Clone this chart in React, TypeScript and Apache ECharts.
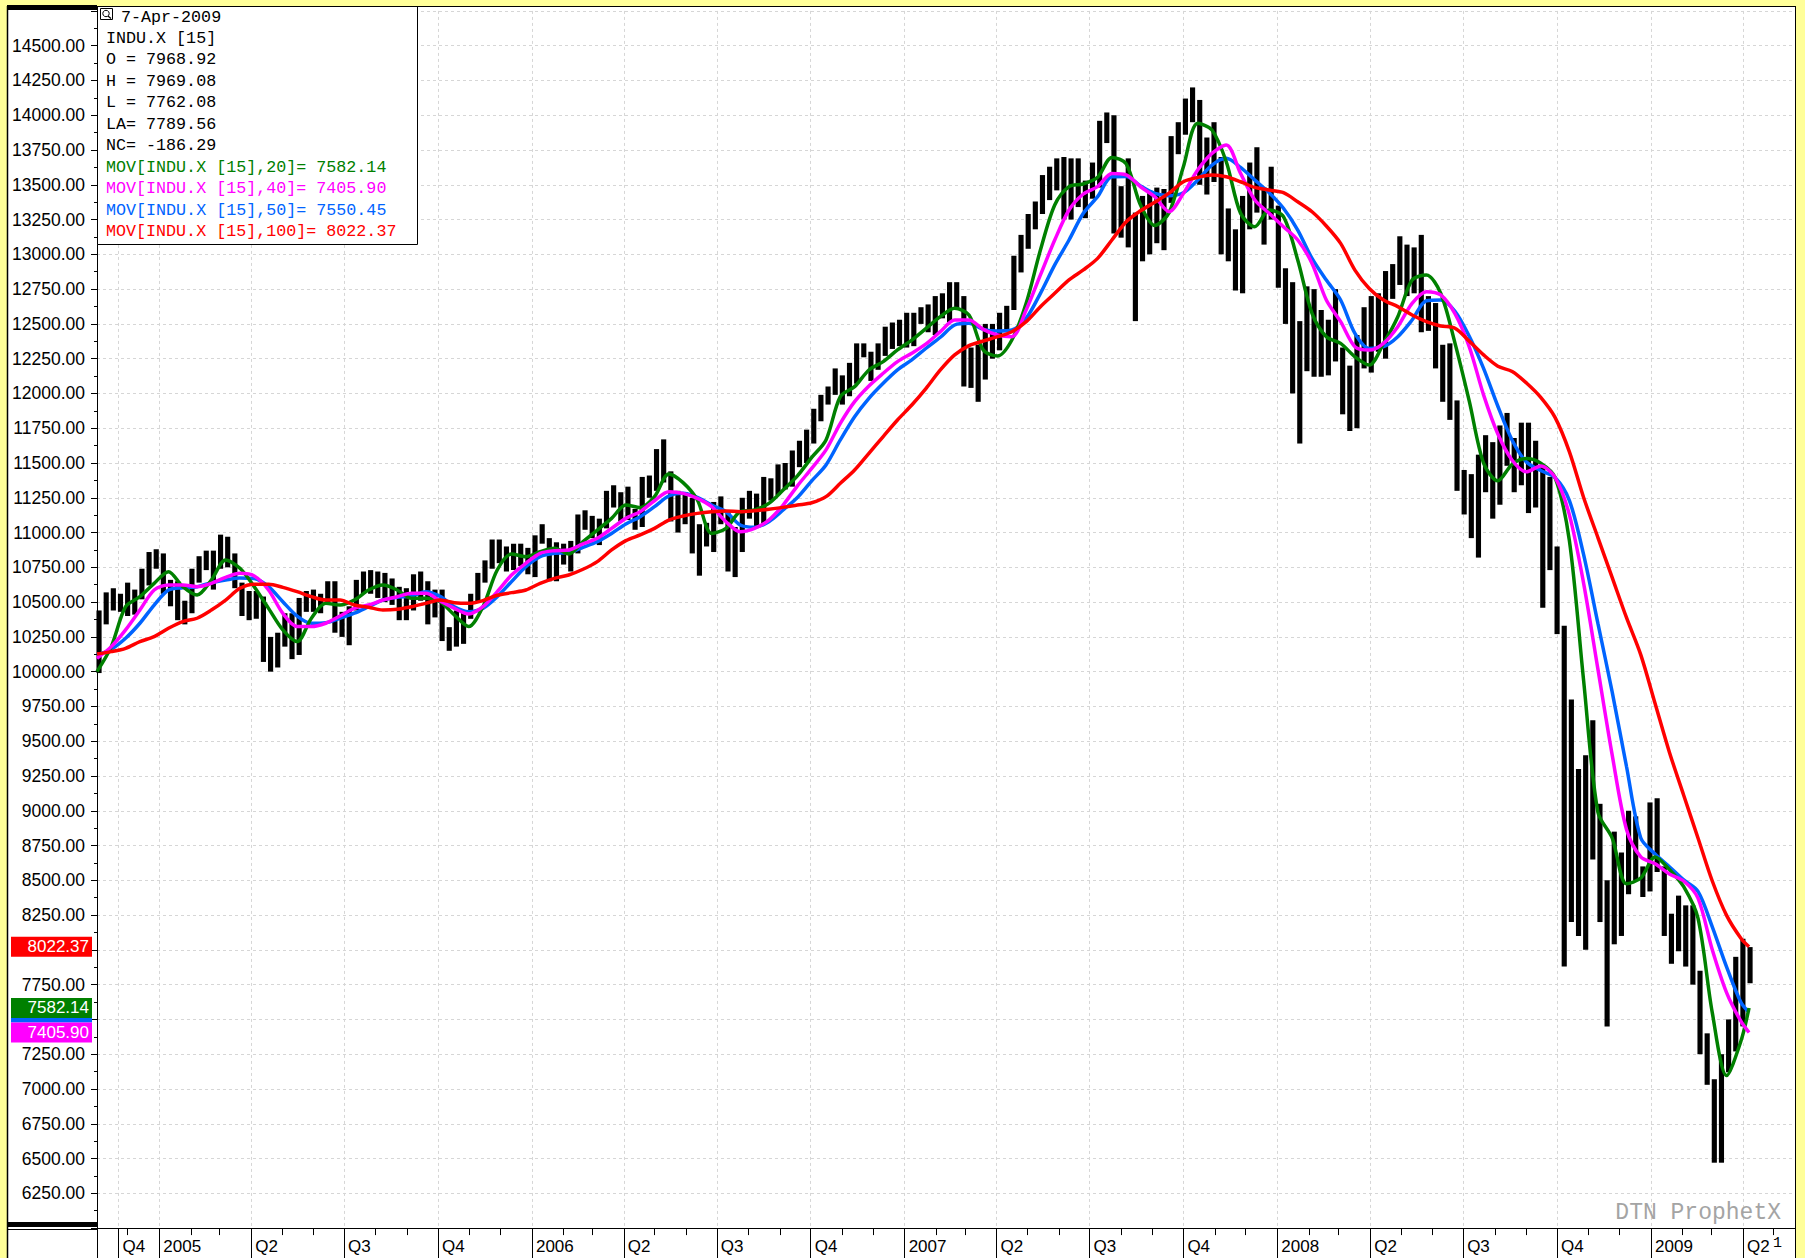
import React, { useEffect, useRef } from 'react';
import * as echarts from 'echarts';

// ---------- axis range / labels ----------
const AXIS_START = '2004-11-01';
const AXIS_END = '2009-05-23';
const QUARTER_DATES = ['2004-11-22', '2005-01-01', '2005-04-01', '2005-07-01', '2005-10-01', '2006-01-01', '2006-04-01', '2006-07-01', '2006-10-01', '2007-01-01', '2007-04-01', '2007-07-01', '2007-10-01', '2008-01-01', '2008-04-01', '2008-07-01', '2008-10-01', '2009-01-01', '2009-04-01'];
const QUARTER_LABELS = ['Q4', '2005', 'Q2', 'Q3', 'Q4', '2006', 'Q2', 'Q3', 'Q4', '2007', 'Q2', 'Q3', 'Q4', '2008', 'Q2', 'Q3', 'Q4', '2009', 'Q2'];
const Y_MIN = 6000;
const Y_MAX = 14750;
const Y_STEP = 250;
// y labels that sit under the last-value badges in the reference
const Y_LABELS_COVERED = [8000, 7500];

// ---------- INDU.X weekly ranges (week k centred on Wednesday PRICE_WEEK0 + 7k) ----------
const PRICE_WEEK0 = '2004-11-03';
const WEEK_LOW = [
  9990, 10340, 10440, 10430, 10400, 10410, 10520, 10620, 10740, 10560,
  10470, 10370, 10340, 10420, 10640, 10730, 10590, 10740, 10750, 10600,
  10400, 10370, 10380, 10070, 10000, 10030, 10180, 10090, 10120, 10430,
  10430, 10420, 10480, 10280, 10250, 10190, 10440, 10560, 10560, 10530,
  10500, 10480, 10370, 10370, 10440, 10510, 10340, 10390, 10220, 10150,
  10180, 10200, 10380, 10500, 10640, 10740, 10780, 10720, 10730, 10760,
  10700, 10680, 10920, 10650, 10650, 10770, 10720, 10850, 11020, 10960,
  10910, 11030, 11180, 11080, 11090, 11020, 11040, 11250, 11300, 11360,
  11080, 11000, 11060, 10850, 10690, 10900, 10860, 11060, 10720, 10680,
  10860, 11100, 11040, 11060, 11230, 11270, 11310, 11330, 11470, 11500,
  11640, 11800, 11920, 11990, 11920, 11980, 12070, 12260, 12090, 12170,
  12270, 12320, 12340, 12330, 12340, 12500, 12440, 12420, 12540, 12510,
  12610, 12050, 12040, 11940, 12100, 12250, 12310, 12450, 12600, 12870,
  13040, 13180, 13290, 13390, 13460, 13250, 13250, 13340, 13260, 13400,
  13480, 13800, 13150, 13120, 13050, 12520, 12950, 13000, 13080, 13030,
  13370, 13720, 13860, 13950, 13500, 13430, 13520, 13000, 12950, 12740,
  12720, 13180, 13300, 13070, 13250, 12760, 12500, 12000, 11640, 12160,
  12120, 12120, 12130, 12230, 11850, 11730, 11750, 12180, 12150, 12300,
  12250, 12680, 12780, 12700, 12720, 12440, 12450, 12180, 11940, 11810,
  11300, 11130, 10960, 10820, 11290, 11100, 11200, 11480, 11290, 11340,
  11140, 11180, 10460, 10730, 10270, 7880, 8200, 8100, 8000, 8650,
  8200, 7450, 8040, 8100, 8400, 8500, 8380, 8420, 8560, 8100,
  7900, 7990, 7880, 7750, 7250, 7030, 6470, 6470, 7120, 7270,
  7450, 7760,
];
const WEEK_HIGH = [
  10440, 10570, 10600, 10560, 10640, 10590, 10740, 10860, 10880, 10850,
  10660, 10650, 10510, 10740, 10830, 10870, 10870, 10985, 10970, 10850,
  10640, 10580, 10580, 10540, 10250, 10280, 10420, 10420, 10530, 10580,
  10590, 10560, 10650, 10650, 10430, 10470, 10660, 10720, 10730, 10720,
  10710, 10670, 10610, 10600, 10700, 10720, 10650, 10590, 10590, 10320,
  10440, 10430, 10560, 10710, 10800, 10950, 10950, 10900, 10920, 10920,
  10890, 10980, 11060, 10960, 10930, 10920, 10940, 11130, 11160, 11120,
  11100, 11300, 11340, 11290, 11330, 11170, 11400, 11410, 11600, 11670,
  11440, 11300, 11290, 11250, 11060, 11070, 11220, 11260, 11160, 11040,
  11250, 11300, 11280, 11400, 11390, 11490, 11500, 11590, 11660, 11740,
  11890, 11990, 12050, 12180, 12130, 12220, 12360, 12360, 12300, 12360,
  12480, 12510, 12530, 12580, 12580, 12620, 12640, 12700, 12720, 12800,
  12800, 12700, 12330, 12350, 12500, 12500, 12580, 12630, 12990, 13140,
  13290, 13380, 13570, 13630, 13690, 13700, 13690, 13690, 13530, 13660,
  13960, 14020, 14000, 13490, 13690, 13300, 13420, 13460, 13480, 13470,
  13850, 13950, 14120, 14200, 14110, 13840, 13950, 13700, 13330, 13180,
  13420, 13660, 13770, 13480, 13630, 13350, 12900, 12800, 12520, 12770,
  12750, 12600, 12530, 12750, 12330, 12200, 12420, 12620, 12700, 12720,
  12880, 12930, 13130, 13070, 13050, 13140, 12700, 12650, 12350, 12360,
  11950, 11450, 11420, 11560, 11700, 11650, 11770, 11860, 11680, 11790,
  11790, 11660, 11480, 11400, 10900, 10330, 9800, 9300, 9400, 9650,
  9050, 8500, 8850, 8700, 9000, 8960, 8600, 9060, 9090, 8600,
  8260, 8390, 8320, 8320, 7850, 7400, 7070, 7250, 7500, 7950,
  8080, 8020,
];

// ---------- moving averages, sampled every 14 days from MA_DATE0 ----------
const MA_DATE0 = '2004-11-01';
const MA_STEP_DAYS = 14;
const MA_LAST_DATE = '2009-04-07';
const MA20 = [
  10000, 10180, 10467, 10539, 10635, 10719, 10611, 10551, 10659, 10803,
  10743, 10611, 10455, 10300, 10216, 10384, 10491, 10479, 10515, 10587,
  10623, 10587, 10527, 10527, 10503, 10407, 10324, 10467, 10731, 10846,
  10827, 10863, 10887, 10846, 10935, 11018, 11102, 11198, 11179, 11258,
  11421, 11359, 11234, 10994, 11030, 11150, 11162, 11210, 11306, 11408,
  11540, 11666, 11977, 12049, 12169, 12229, 12313, 12384, 12468, 12552,
  12612, 12564, 12313, 12269, 12384, 12648, 13031, 13355, 13487, 13506,
  13554, 13697, 13650, 13355, 13208, 13300, 13630, 13942, 13894, 13666,
  13295, 13199, 13319, 13271, 12959, 12576, 12408, 12360, 12264, 12204,
  12360, 12552, 12815, 12851, 12720, 12362, 11945, 11499, 11372, 11491,
  11532, 11499, 11396, 10944, 9936, 8989, 8804, 8475, 8516, 8668,
  8578, 8454, 8228, 7549, 7096, 7343,
];
const MA40 = [
  10096, 10180, 10300, 10443, 10587, 10623, 10623, 10611, 10635, 10678,
  10707, 10688, 10587, 10419, 10324, 10324, 10348, 10400, 10455, 10479,
  10515, 10539, 10563, 10563, 10509, 10455, 10415, 10467, 10575, 10695,
  10779, 10851, 10870, 10875, 10918, 10959, 11030, 11102, 11150, 11229,
  11294, 11282, 11246, 11186, 11078, 11006, 11030, 11090, 11198, 11336,
  11462, 11594, 11785, 11941, 12054, 12145, 12229, 12289, 12356, 12444,
  12528, 12528, 12461, 12420, 12408, 12600, 12852, 13103, 13319, 13434,
  13487, 13582, 13572, 13486, 13414, 13307, 13438, 13606, 13726, 13786,
  13582, 13390, 13295, 13199, 13103, 12935, 12672, 12516, 12336, 12312,
  12360, 12480, 12648, 12732, 12708, 12573, 12335, 11990, 11708, 11520,
  11437, 11479, 11396, 11129, 10635, 10018, 9400, 8866, 8668, 8619,
  8545, 8495, 8372, 8001, 7693, 7487,
];
const MA50 = [
  10120, 10161, 10240, 10348, 10479, 10587, 10604, 10611, 10640, 10659,
  10673, 10669, 10611, 10503, 10400, 10348, 10352, 10384, 10420, 10467,
  10515, 10534, 10544, 10575, 10541, 10467, 10431, 10455, 10539, 10647,
  10755, 10827, 10851, 10856, 10894, 10935, 10994, 11062, 11114, 11186,
  11263, 11282, 11253, 11198, 11150, 11054, 11038, 11078, 11162, 11252,
  11372, 11486, 11666, 11833, 11965, 12073, 12169, 12241, 12325, 12404,
  12492, 12504, 12461, 12449, 12456, 12540, 12720, 12924, 13103, 13295,
  13415, 13558, 13560, 13492, 13438, 13422, 13443, 13534, 13642, 13690,
  13625, 13534, 13443, 13331, 13175, 12971, 12815, 12672, 12432, 12324,
  12336, 12408, 12528, 12667, 12672, 12591, 12411, 12180, 11908, 11664,
  11507, 11446, 11396, 11232, 10841, 10347, 9853, 9318, 8804, 8689,
  8598, 8503, 8421, 8166, 7878, 7623,
];
const MA100 = [
  10127, 10144, 10168, 10216, 10252, 10312, 10360, 10384, 10443, 10515,
  10599, 10628, 10628, 10606, 10575, 10539, 10515, 10515, 10479, 10463,
  10443, 10448, 10467, 10491, 10516, 10496, 10491, 10511, 10549, 10568,
  10587, 10635, 10671, 10695, 10736, 10791, 10875, 10942, 10983, 11030,
  11090, 11119, 11138, 11150, 11155, 11150, 11157, 11167, 11181, 11198,
  11214, 11258, 11354, 11450, 11570, 11690, 11809, 11917, 12037, 12169,
  12277, 12344, 12377, 12408, 12444, 12516, 12624, 12720, 12816, 12888,
  12971, 13103, 13235, 13313, 13375, 13440, 13522, 13553, 13570, 13558,
  13522, 13481, 13462, 13443, 13378, 13306, 13204, 13079, 12887, 12755,
  12672, 12624, 12564, 12516, 12485, 12469, 12376, 12277, 12196, 12158,
  12075, 11972, 11828, 11582, 11252, 10964, 10676, 10388, 10121, 9771,
  9421, 9112, 8804, 8495, 8248, 8084,
];

// ---------- last values shown in the info box / axis badges ----------
const INFO_DATE = '7-Apr-2009';
const INFO_SYMBOL = 'INDU.X [15]';
const INFO_OPEN = 7968.92;
const INFO_HIGH = 7969.08;
const INFO_LOW = 7762.08;
const INFO_LAST = 7789.56;
const INFO_NET = -186.29;
const LAST_MA20 = 7582.14;
const LAST_MA40 = 7405.90;
const LAST_MA50 = 7550.45;
const LAST_MA100 = 8022.37;

const C_GREEN = '#008000';
const C_MAGENTA = '#ff00ff';
const C_BLUE = '#0064ff';
const C_RED = '#ff0000';
const C_YELLOW = '#ffff99';

const DAY = 86400000;
const toTime = (s: string) => Date.UTC(+s.slice(0, 4), +s.slice(5, 7) - 1, +s.slice(8, 10));
const dayIndex = (s: string) => Math.round((toTime(s) - toTime(AXIS_START)) / DAY);

export default function App() {
  const ref = useRef<HTMLDivElement>(null);

  useEffect(() => {
    if (!ref.current) return;
    const chart = echarts.init(ref.current, undefined, { renderer: 'svg' });

    const nDays = dayIndex(AXIS_END);
    const categories: string[] = [];
    for (let i = 0; i <= nDays; i++) categories.push(new Date(toTime(AXIS_START) + i * DAY).toISOString().slice(0, 10));
    const labelByDate = new Map<string, string>();
    QUARTER_DATES.forEach((d, j) => labelByDate.set(d, QUARTER_LABELS[j]));
    const isQuarter = (i: number) => labelByDate.has(categories[i]);
    const isMonth = (i: number) => i > 0 && categories[i].endsWith('-01') && !isQuarter(i);

    const priceData = WEEK_LOW.map((lo, k) => [dayIndex(PRICE_WEEK0) + 7 * k, lo, WEEK_HIGH[k]]);
    const maData = (arr: number[], last: number) => [
      ...arr.map((v, j) => [dayIndex(MA_DATE0) + MA_STEP_DAYS * j, v]),
      [dayIndex(MA_LAST_DATE), last],
    ];

    const badge = (value: number, color: string, showText: boolean) => ({
      type: 'line',
      data: [],
      silent: true,
      z: 10,
      markLine: {
        silent: true,
        symbol: 'none',
        lineStyle: { color: 'rgba(0,0,0,0)', width: 0.01, type: 'solid' },
        data: [{ yAxis: value }],
        label: {
          show: true,
          position: 'start',
          distance: 5,
          formatter: showText ? value.toFixed(2) : ' ',
          color: '#ffffff',
          backgroundColor: color,
          fontFamily: 'Liberation Sans, Arial, sans-serif',
          fontSize: 17,
          lineHeight: 17,
          width: 62,
          height: 17,
          align: 'right',
          padding: [2, 3, 1, 16],
        },
      },
    });

    const maLine = (name: string, arr: number[], last: number, color: string) => ({
      name,
      type: 'line',
      data: maData(arr, last),
      showSymbol: false,
      smooth: 0.3,
      silent: true,
      lineStyle: { color, width: 3.5 },
      itemStyle: { color },
      z: 3,
    });

    const mono = '"Liberation Mono", "Courier New", monospace';
    const infoLines: [string, string][] = [
      [INFO_SYMBOL, '#000'],
      [`O = ${INFO_OPEN.toFixed(2)}`, '#000'],
      [`H = ${INFO_HIGH.toFixed(2)}`, '#000'],
      [`L = ${INFO_LOW.toFixed(2)}`, '#000'],
      [`LA= ${INFO_LAST.toFixed(2)}`, '#000'],
      [`NC= ${INFO_NET.toFixed(2)}`, '#000'],
      [`MOV[INDU.X [15],20]= ${LAST_MA20.toFixed(2)}`, C_GREEN],
      [`MOV[INDU.X [15],40]= ${LAST_MA40.toFixed(2)}`, C_MAGENTA],
      [`MOV[INDU.X [15],50]= ${LAST_MA50.toFixed(2)}`, C_BLUE],
      [`MOV[INDU.X [15],100]= ${LAST_MA100.toFixed(2)}`, C_RED],
    ];

    const graphic: any[] = [
      // yellow frame
      { type: 'rect', shape: { x: 0, y: 0, width: 1805, height: 6 }, style: { fill: C_YELLOW }, z: 200, silent: true },
      { type: 'rect', shape: { x: 0, y: 0, width: 7, height: 1258 }, style: { fill: C_YELLOW }, z: 200, silent: true },
      { type: 'rect', shape: { x: 1796, y: 0, width: 9, height: 1258 }, style: { fill: C_YELLOW }, z: 200, silent: true },
      // borders
      { type: 'line', shape: { x1: 7.5, y1: 6, x2: 7.5, y2: 1258 }, style: { stroke: '#000', lineWidth: 1.5 }, z: 201, silent: true },
      { type: 'line', shape: { x1: 7, y1: 6.5, x2: 1796, y2: 6.5 }, style: { stroke: '#000', lineWidth: 1 }, z: 201, silent: true },
      { type: 'line', shape: { x1: 1795.5, y1: 6, x2: 1795.5, y2: 1258 }, style: { stroke: '#000', lineWidth: 1 }, z: 201, silent: true },
      { type: 'rect', shape: { x: 7, y: 5, width: 90, height: 5 }, style: { fill: '#000' }, z: 201, silent: true },
      { type: 'line', shape: { x1: 97.5, y1: 6, x2: 97.5, y2: 12 }, style: { stroke: '#000', lineWidth: 1 }, z: 201, silent: true },
      { type: 'rect', shape: { x: 7, y: 1222, width: 90, height: 5 }, style: { fill: '#000' }, z: 201, silent: true },
      { type: 'line', shape: { x1: 7, y1: 1229.5, x2: 97, y2: 1229.5 }, style: { stroke: '#000', lineWidth: 1 }, z: 201, silent: true },
      { type: 'line', shape: { x1: 97.5, y1: 1228, x2: 97.5, y2: 1258 }, style: { stroke: '#000', lineWidth: 1 }, z: 201, silent: true },
      // truncated label at the right end of the time axis
      { type: 'text', x: 1773, y: 1243, style: { text: '1', font: '15px "Liberation Mono", monospace', fill: '#000', textVerticalAlign: 'middle' }, z: 5, silent: true },
      // info box
      { type: 'rect', shape: { x: 97.5, y: 6.5, width: 320, height: 238 }, style: { fill: '#fff', stroke: '#000', lineWidth: 1 }, z: 150, silent: true },
      { type: 'rect', shape: { x: 100.5, y: 8.5, width: 12, height: 11 }, style: { fill: '#fff', stroke: '#000', lineWidth: 1 }, z: 151, silent: true },
      { type: 'circle', shape: { cx: 106, cy: 13.5, r: 3.2 }, style: { fill: 'none', stroke: '#000', lineWidth: 1 }, z: 152, silent: true },
      { type: 'line', shape: { x1: 108, x2: 111, y1: 16, y2: 18.5 }, style: { stroke: '#000', lineWidth: 1.2 }, z: 152, silent: true },
      { type: 'text', x: 121, y: 17, style: { text: INFO_DATE, font: `16.7px ${mono}`, fill: '#000', textVerticalAlign: 'middle' }, z: 152, silent: true },
      ...infoLines.map(([t, c], i) => ({
        type: 'text', x: 106, y: 38.5 + i * 21.45,
        style: { text: t, font: `16.7px ${mono}`, fill: c, textVerticalAlign: 'middle' }, z: 152, silent: true,
      })),
      // watermark
      { type: 'text', x: 1781, y: 1213, style: { text: 'DTN ProphetX', font: `23px ${mono}`, fill: '#a4a4a4', textAlign: 'right', textVerticalAlign: 'middle' }, z: 5, silent: true },
    ];

    const gridColor = '#d6d6d6';

    chart.setOption({
      animation: false,
      backgroundColor: '#ffffff',
      grid: { left: 97, right: 9, top: 10.92, bottom: 29.92, containLabel: false },
      xAxis: [
        {
          type: 'category', data: categories, boundaryGap: false, position: 'bottom',
          axisLine: { show: true, lineStyle: { color: '#000', width: 1 } },
          axisTick: { show: true, interval: (i: number) => isMonth(i), length: 7, lineStyle: { color: '#000' } },
          axisLabel: {
            show: true, interval: (i: number) => isQuarter(i),
            formatter: (v: string) => labelByDate.get(v) ?? '',
            align: 'left', margin: 10, padding: [0, 0, 0, 4],
            fontSize: 17, fontFamily: 'Liberation Sans, Arial, sans-serif', color: '#000',
          },
          splitLine: { show: true, interval: (i: number) => isQuarter(i), lineStyle: { color: gridColor, type: [3, 3], width: 1 } },
        },
        {
          type: 'category', data: categories, boundaryGap: false, position: 'bottom',
          axisLine: { show: false },
          axisTick: { show: true, interval: (i: number) => isQuarter(i), length: 30, lineStyle: { color: '#000' } },
          axisLabel: { show: false },
          splitLine: { show: false },
        },
      ],
      yAxis: {
        type: 'value', min: Y_MIN, max: Y_MAX, interval: Y_STEP, position: 'left',
        axisLine: { show: true, lineStyle: { color: '#000' } },
        axisTick: { show: true, length: 6, lineStyle: { color: '#000' } },
        minorTick: { show: true, splitNumber: 2, length: 3, lineStyle: { color: '#000' } },
        axisLabel: {
          formatter: (v: number) => (Y_LABELS_COVERED.includes(v) ? '' : v.toFixed(2)),
          showMinLabel: false, showMaxLabel: false,
          margin: 12, fontSize: 17.5, fontFamily: 'Liberation Sans, Arial, sans-serif', color: '#000',
        },
        splitLine: { show: true, lineStyle: { color: gridColor, type: [3, 3], width: 1 } },
      },
      series: [
        {
          type: 'custom',
          name: 'INDU.X',
          data: priceData,
          encode: { x: 0, y: [1, 2] },
          silent: true,
          z: 2,
          renderItem: (params: any, api: any) => {
            const x = api.value(0);
            const lo = api.value(1);
            const hi = api.value(2);
            const top = api.coord([x, hi]);
            const bot = api.coord([x, lo]);
            const band = api.size([1, 0])[0];
            const w = Math.max(1, band * 7 * 0.72);
            return {
              type: 'rect',
              shape: { x: top[0] - w / 2, y: top[1], width: w, height: Math.max(1, bot[1] - top[1]) },
              style: { fill: '#000' },
            };
          },
        },
        maLine('MA50', MA50, LAST_MA50, C_BLUE),
        maLine('MA20', MA20, LAST_MA20, C_GREEN),
        maLine('MA40', MA40, LAST_MA40, C_MAGENTA),
        maLine('MA100', MA100, LAST_MA100, C_RED),
        badge(LAST_MA100, C_RED, true),
        badge(LAST_MA50, C_BLUE, false),
        badge(LAST_MA20, C_GREEN, true),
        badge(LAST_MA40, C_MAGENTA, true),
      ],
      graphic,
    });

    return () => chart.dispose();
  }, []);

  return <div ref={ref} style={{ position: 'absolute', left: 0, top: 0, width: 1805, height: 1258 }} />;
}
